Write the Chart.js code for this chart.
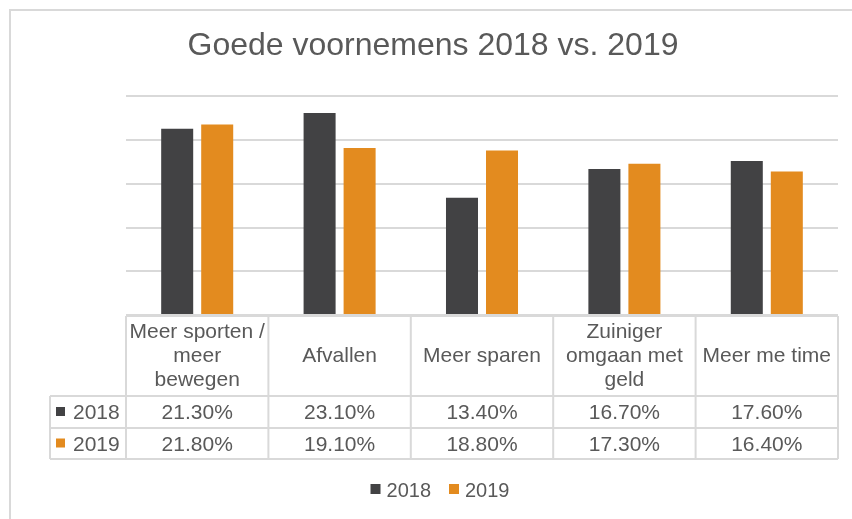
<!DOCTYPE html>
<html><head><meta charset="utf-8">
<script src="https://cdn.jsdelivr.net/npm/chart.js@4.4.0/dist/chart.umd.min.js"></script>
<style>
html,body{margin:0;padding:0;background:#fff;overflow:hidden;width:852px;height:519px}
#wrap{position:absolute;left:9px;top:9px;border-left:2px solid #d9d9d9;border-top:2px solid #d9d9d9;}
canvas{display:block}
</style></head><body>
<div id="wrap"><canvas id="c" width="844" height="514"></canvas></div>
<script>
const chartTitle = "Goede voornemens 2018 vs. 2019";
const categories = [["Meer sporten /","meer","bewegen"],"Afvallen","Meer sparen",["Zuiniger","omgaan met","geld"],"Meer me time"];
const seriesNames = ["2018","2019"];
const values2018 = [21.3,23.1,13.4,16.7,17.6];
const values2019 = [21.8,19.1,18.8,17.3,16.4];
const yTicks = [0,5,10,15,20,25];
const seriesColors = ["#424244","#E38B1F"];

const FONT = '"Liberation Sans", Arial, sans-serif';
const TEXT = '#595959';
const LINE = '#d9d9d9';

const tablePlugin = {
  id: 'dataTable',
  afterDraw(chart) {
    const {ctx, chartArea: a} = chart;
    const n = categories.length;
    const colW = (a.right - a.left) / n;
    const top = Math.round(a.bottom) + 1;
    const r1 = top + 80, r2 = r1 + 32, r3 = r2 + 31;
    const labelLeft = 39;
    ctx.save();
    ctx.strokeStyle = LINE; ctx.lineWidth = 2;
    ctx.beginPath();
    ctx.moveTo(a.left, top); ctx.lineTo(a.right, top);
    [r1, r2, r3].forEach(y => { ctx.moveTo(labelLeft, y); ctx.lineTo(a.right, y); });
    for (let i = 0; i <= n; i++) { const xx = a.left + i * colW; ctx.moveTo(xx, top); ctx.lineTo(xx, r3); }
    ctx.moveTo(labelLeft, r1); ctx.lineTo(labelLeft, r3);
    ctx.stroke();

    ctx.fillStyle = TEXT;
    ctx.font = '21px ' + FONT;
    ctx.textAlign = 'center';
    ctx.textBaseline = 'alphabetic';
    const hc = (top + r1) / 2;
    categories.forEach((lab, i) => {
      const lines = Array.isArray(lab) ? lab : [lab];
      const cx = a.left + (i + 0.5) * colW;
      const y0 = hc - (lines.length - 1) * 24 / 2;
      lines.forEach((t, k) => ctx.fillText(t, cx, y0 + k * 24 + 6));
    });
    const rows = [values2018, values2019];
    const rowCenters = [(r1 + r2) / 2, (r2 + r3) / 2];
    rows.forEach((vals, j) => {
      const cy = rowCenters[j];
      vals.forEach((v, i) => {
        const cx = a.left + (i + 0.5) * colW;
        ctx.fillStyle = TEXT;
        ctx.textAlign = 'center';
        ctx.fillText(v.toFixed(2) + '%', cx, cy + 7);
      });
      ctx.fillStyle = seriesColors[j];
      ctx.fillRect(45, cy - 5, 9, 9);
      ctx.fillStyle = TEXT;
      ctx.textAlign = 'left';
      ctx.fillText(seriesNames[j], 62, cy + 7);
    });

    // legend
    ctx.font = '20px ' + FONT;
    const widths = seriesNames.map(s => 10 + 6 + ctx.measureText(s).width);
    const total = widths.reduce((p, c) => p + c, 0) + 18 * (seriesNames.length - 1);
    let lx = 429 - total / 2;
    const ly = 486;
    seriesNames.forEach((s, j) => {
      ctx.fillStyle = seriesColors[j];
      ctx.fillRect(lx, ly - 13, 10, 10);
      ctx.fillStyle = TEXT;
      ctx.textAlign = 'left';
      ctx.fillText(s, lx + 16, ly);
      lx += widths[j] + 18;
    });
    ctx.restore();
  }
};

new Chart(document.getElementById('c'), {
  type: 'bar',
  data: {
    labels: categories,
    datasets: [
      {label: seriesNames[0], data: values2018, backgroundColor: seriesColors[0], borderWidth: 0, categoryPercentage: 0.562, barPercentage: 0.8},
      {label: seriesNames[1], data: values2019, backgroundColor: seriesColors[1], borderWidth: 0, categoryPercentage: 0.562, barPercentage: 0.8}
    ]
  },
  options: {
    responsive: false,
    animation: false,
    devicePixelRatio: 1,
    layout: {padding: 0},
    plugins: {
      legend: {display: false},
      tooltip: {enabled: false},
      title: {display: true, text: chartTitle, color: TEXT, font: {family: FONT, size: 32, weight: 'normal'}, padding: {top: 16, bottom: 31}}
    },
    scales: {
      x: {grid: {display: false}, ticks: {display: false}, border: {display: false}, afterFit(s) { s.height = 210; }},
      y: {min: 0, max: 25, ticks: {display: false}, grid: {color: LINE, lineWidth: 2, drawTicks: false}, border: {display: false},
          afterBuildTicks(s) { s.ticks = yTicks.map(v => ({value: v})); },
          afterFit(s) { s.width = 115; }},
      y2: {type: 'linear', position: 'right', display: true, grid: {display: false}, ticks: {display: false}, border: {display: false},
           afterFit(s) { s.width = 17; }}
    }
  },
  plugins: [tablePlugin]
});
</script>
</body></html>
